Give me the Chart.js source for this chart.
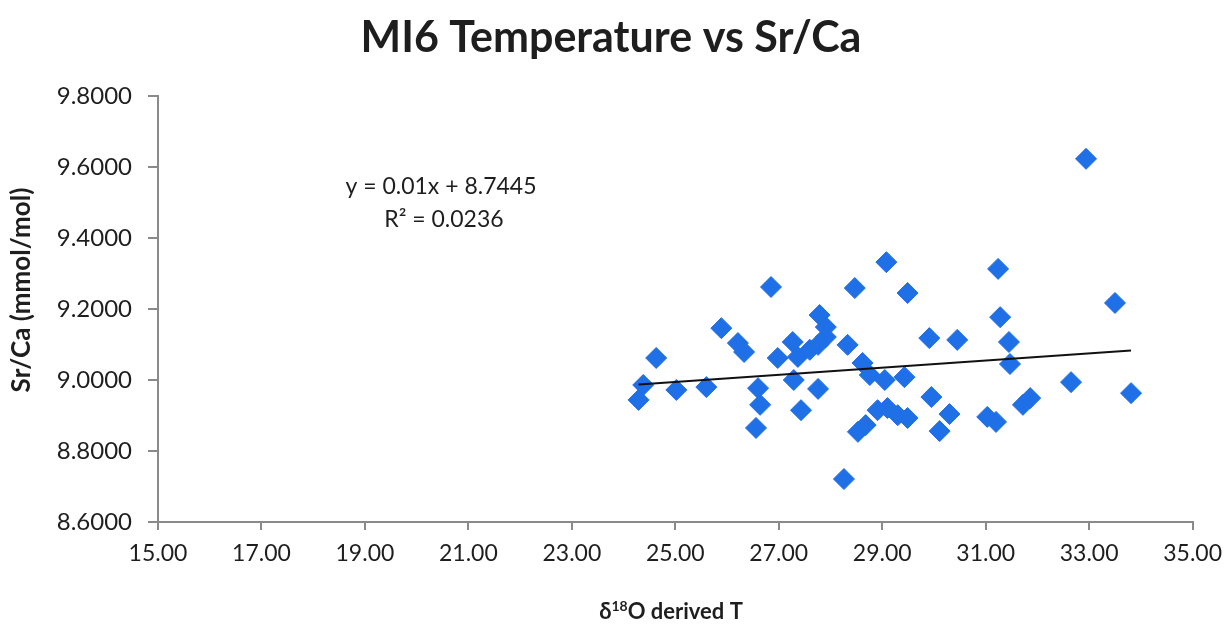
<!DOCTYPE html>
<html><head><meta charset="utf-8">
<script src="https://cdn.jsdelivr.net/npm/chart.js@4.4.1/dist/chart.umd.min.js"></script>
<style>html,body{margin:0;padding:0;background:#fff}</style>
</head><body>
<canvas id="c" width="1232" height="625"></canvas>
<script>
// ---- data ----
const chartTitle = 'MI6 Temperature vs Sr/Ca';
const yAxisTitle = 'Sr/Ca (mmol/mol)';
const xAxisTitleParts = ['δ', '18', 'O derived T'];
const equationLines = ['y = 0.01x + 8.7445', 'R² = 0.0236'];

const tempX = [
  32.94, 33.50, 33.81, 32.65, 31.24, 31.28, 31.45, 31.47, 31.72, 31.86,
  31.03, 31.20, 30.11, 30.30, 29.95, 29.91, 30.45, 29.49, 29.08, 28.47,
  26.85, 28.26,
  26.98, 27.27, 27.37, 27.60, 27.76, 27.91, 27.91, 27.79, 28.33,
  27.29, 27.76, 27.43,
  28.62, 28.76, 29.05, 29.43,
  28.53, 28.68, 28.91, 29.10, 29.30, 29.49,
  25.89, 26.21, 26.33, 24.63, 24.38, 24.29, 25.02, 25.60, 26.60, 26.64, 26.56
];
const srCaY = [
  9.623, 9.217, 8.963, 8.994, 9.313, 9.177, 9.107, 9.045, 8.930, 8.949,
  8.896, 8.882, 8.856, 8.904, 8.952, 9.118, 9.113, 9.245, 9.332, 9.259,
  9.262, 8.721,
  9.062, 9.107, 9.065, 9.085, 9.099, 9.121, 9.149, 9.183, 9.099,
  9.000, 8.975, 8.915,
  9.048, 9.014, 9.000, 9.008,
  8.854, 8.873, 8.915, 8.921, 8.901, 8.893,
  9.146, 9.104, 9.079, 9.062, 8.986, 8.944, 8.972, 8.980, 8.977, 8.930, 8.865
];
const trendX = [24.29, 33.81];
const trendY = [8.987, 9.083];
const xTickValues = [15, 17, 19, 21, 23, 25, 27, 29, 31, 33, 35];
const yTickValues = [8.6, 8.8, 9.0, 9.2, 9.4, 9.6, 9.8];

// ---- chart ----
const FONT = 'Lato, "Open Sans", sans-serif';
const TEXT = '#1e1e1e';
const AXIS = '#8a8a8a';

const points = tempX.map((x, i) => ({ x: x, y: srCaY[i] }));
const trend = trendX.map((x, i) => ({ x: x, y: trendY[i] }));

const textPlugin = {
  id: 'texts',
  afterDraw(chart) {
    const ctx = chart.ctx;
    const xs = chart.scales.x, ys = chart.scales.y;
    ctx.save();
    ctx.fillStyle = TEXT;
    // title
    ctx.font = 'bold 43px ' + FONT;
    ctx.textAlign = 'center';
    ctx.textBaseline = 'middle';
    ctx.fillText(chartTitle, 611, 38);
    // y axis title
    ctx.save();
    ctx.translate(22, 290);
    ctx.rotate(-Math.PI / 2);
    ctx.font = 'bold 26px ' + FONT;
    ctx.fillText(yAxisTitle, 0, 0);
    ctx.restore();
    // x axis title with superscript
    const big = 'bold 22px ' + FONT, small = 'bold 14px ' + FONT;
    ctx.font = big; const w0 = ctx.measureText(xAxisTitleParts[0]).width;
    const w2 = ctx.measureText(xAxisTitleParts[2]).width;
    ctx.font = small; const w1 = ctx.measureText(xAxisTitleParts[1]).width;
    let sx = 671 - (w0 + w1 + w2) / 2;
    const by = 612;
    ctx.textAlign = 'left';
    ctx.textBaseline = 'middle';
    ctx.font = big; ctx.fillText(xAxisTitleParts[0], sx, by); sx += w0;
    ctx.font = small; ctx.fillText(xAxisTitleParts[1], sx, by - 6); sx += w1;
    ctx.font = big; ctx.fillText(xAxisTitleParts[2], sx, by);
    // equation
    ctx.font = '23px ' + FONT;
    ctx.textAlign = 'center';
    const ex = xs.getPixelForValue(20.47);
    ctx.fillText(equationLines[0], ex, ys.getPixelForValue(9.544));
    ctx.fillText(equationLines[1], ex + 3, ys.getPixelForValue(9.451));
    ctx.restore();
  }
};

new Chart(document.getElementById('c'), {
  type: 'scatter',
  data: {
    datasets: [
      {
        type: 'line',
        label: 'Linear trend',
        data: trend,
        borderColor: '#111',
        borderWidth: 2,
        pointRadius: 0,
        fill: false,
        order: 0
      },
      {
        label: 'Sr/Ca',
        data: points,
        pointStyle: 'rectRot',
        pointRadius: 10.5,
        pointHoverRadius: 10.5,
        backgroundColor: '#1f6fe6',
        borderColor: '#1f6fe6',
        borderWidth: 1,
        order: 1
      }
    ]
  },
  plugins: [textPlugin],
  options: {
    responsive: false,
    animation: false,
    layout: { padding: { top: 96, right: 36, bottom: 0, left: 0 } },
    plugins: { legend: { display: false }, tooltip: { enabled: false }, title: { display: false } },
    scales: {
      x: {
        type: 'linear',
        min: 15, max: 35,
        afterBuildTicks: (ax) => { ax.ticks = xTickValues.map(v => ({ value: v })); },
        afterFit: (ax) => { ax.height = 103; },
        ticks: {
          callback: (v) => Number(v).toFixed(2),
          font: { family: FONT, size: 23 },
          color: TEXT,
          padding: 10,
          maxRotation: 0,
          autoSkip: false
        },
        grid: { display: true, drawOnChartArea: false, drawTicks: true, tickLength: 8, color: AXIS, lineWidth: 2 },
        border: { display: true, color: AXIS, width: 2 }
      },
      y: {
        type: 'linear',
        min: 8.6, max: 9.8,
        afterBuildTicks: (ax) => { ax.ticks = yTickValues.map(v => ({ value: v })); },
        afterFit: (ax) => { ax.width = 158; },
        ticks: {
          callback: (v) => Number(v).toFixed(4),
          font: { family: FONT, size: 24 },
          color: TEXT,
          padding: 16,
          autoSkip: false
        },
        grid: { display: true, drawOnChartArea: false, drawTicks: true, tickLength: 10, color: AXIS, lineWidth: 2 },
        border: { display: true, color: AXIS, width: 2 }
      }
    }
  }
});
</script>
</body></html>
